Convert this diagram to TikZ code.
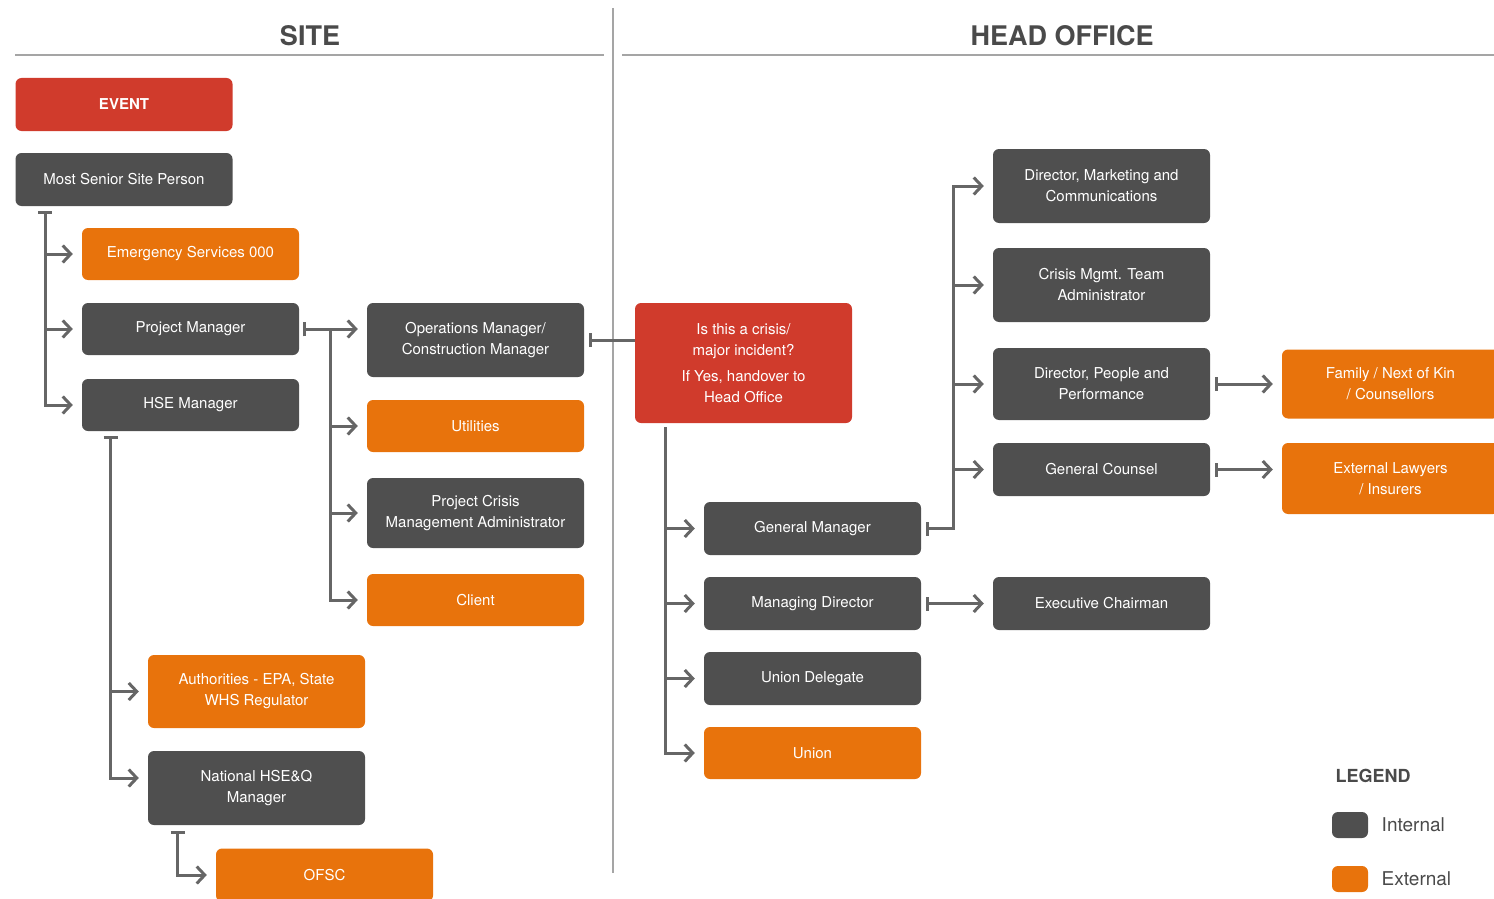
\documentclass[tikz,border=0pt]{standalone}
\usepackage{fontspec}
\setmainfont{TeX Gyre Heros}
\usetikzlibrary{arrows.meta}
\usetikzlibrary{positioning}
\usetikzlibrary{calc}

\definecolor{internal}{HTML}{4F4F4F}
\definecolor{external}{HTML}{E8730C}
\definecolor{alert}{HTML}{D03B2C}
\definecolor{wire}{HTML}{666666}
\definecolor{rulegray}{HTML}{A5A5A5}
\definecolor{headgray}{HTML}{4A4A4A}

\tikzset{
    box/.style={rectangle, rounded corners=6pt, minimum width=217pt, minimum height=53pt,
        inner sep=0pt, text=white, align=center, font=\fontsize{15}{21}\selectfont},
    inbox/.style={box, fill=internal},
    exbox/.style={box, fill=external},
    hotbox/.style={box, fill=alert},
    flow/.style={draw=wire, line width=3pt, {Bar[width=14pt]}-{Straight Barb[length=8pt,width=17pt]}},
    feed/.style={draw=wire, line width=3pt, -{Straight Barb[length=8pt,width=17pt]}},
    tick/.style={draw=wire, line width=3pt, {Bar[width=14pt]}-},
    heading/.style={text=headgray, font=\fontsize{27}{30}\selectfont\bfseries},
    swatch/.style={rectangle, rounded corners=6pt, minimum width=36pt, minimum height=26pt, inner sep=0pt},
    legtext/.style={text=headgray, font=\fontsize{19}{22}\selectfont}
}

\begin{document}
\begin{tikzpicture}[x=1pt, y=-1pt]
    \clip (0,0) rectangle (1494,899);

    \node[heading] (site) at (310,36) {SITE};
    \node[heading] (office) at (1062,36) {HEAD OFFICE};
    \draw[rulegray, line width=1.5pt] (15,55) -- (604,55);
    \draw[rulegray, line width=1.5pt] (622,55) -- (1494,55);
    \draw[rulegray, line width=1.5pt] (613,8) -- (613,873);

    \draw (124,104.5) node[hotbox, font=\fontsize{15}{21}\selectfont\bfseries] (event) {EVENT};
    \draw (124,179.5) node[inbox] (senior) {Most Senior Site Person};
    \draw (190.5,254) node[exbox, minimum height=52pt] (emergency) {Emergency Services 000};
    \draw (190.5,329) node[inbox, minimum height=52pt] (pm) {Project Manager};
    \draw (190.5,405) node[inbox, minimum height=52pt] (hse) {HSE Manager};
    \draw (475.5,340) node[inbox, minimum height=74pt] (ops) {Operations Manager/\\Construction Manager};
    \draw (475.5,426) node[exbox, minimum height=52pt] (utilities) {Utilities};
    \draw (475.5,513) node[inbox, minimum height=70pt] (pcma) {Project Crisis\\Management Administrator};
    \draw (475.5,600) node[exbox, minimum height=52pt] (client) {Client};
    \draw (256.5,691.5) node[exbox, minimum height=73pt] (authorities) {Authorities - EPA, State\\WHS Regulator};
    \draw (256.5,788) node[inbox, minimum height=74pt] (nhseq) {National HSE\&Q\\Manager};
    \draw (324.5,875) node[exbox] (ofsc) {OFSC};

    \draw (743.5,363) node[hotbox, minimum height=120pt] (crisis) {Is this a crisis/\\major incident?\\[5pt]If Yes, handover to\\Head Office};
    \draw (812.5,528.5) node[inbox] (gm) {General Manager};
    \draw (812.5,603.5) node[inbox] (md) {Managing Director};
    \draw (812.5,678.5) node[inbox] (delegate) {Union Delegate};
    \draw (812.5,753) node[exbox, minimum height=52pt] (union) {Union};
    \draw (1101.5,186) node[inbox, minimum height=74pt] (dmc) {Director, Marketing and\\Communications};
    \draw (1101.5,285) node[inbox, minimum height=74pt] (cmta) {Crisis Mgmt. Team\\Administrator};
    \draw (1101.5,384) node[inbox, minimum height=72pt] (dpp) {Director, People and\\Performance};
    \draw (1101.5,469.5) node[inbox] (counsel) {General Counsel};
    \draw (1101.5,603.5) node[inbox] (chairman) {Executive Chairman};
    \draw (1390.5,384) node[exbox, minimum height=69pt] (family) {Family / Next of Kin\\/ Counsellors};
    \draw (1390.5,478.5) node[exbox, minimum height=71pt] (lawyers) {External Lawyers\\/ Insurers};

    \coordinate (s0) at ([xshift=30pt,yshift=-5pt]senior.south west);
    \coordinate (p0) at ([xshift=4pt]pm.east);
    \coordinate (p1) at ([xshift=31pt]pm.east);
    \coordinate (h0) at ([xshift=29pt,yshift=-5pt]hse.south west);
    \coordinate (n0) at ([xshift=30pt,yshift=-6pt]nhseq.south west);
    \coordinate (c0) at ([xshift=31pt,yshift=-4pt]crisis.south west);
    \coordinate (g0) at ([xshift=5pt]gm.east);
    \coordinate (g1) at ([xshift=32pt]gm.east);

    \foreach \child in {emergency,pm,hse}{
        \draw[flow] (s0) |- ([xshift=-9pt]\child.west);
    }
    \draw[flow] (p0) -- ([xshift=-9pt,yshift=11pt]ops.west);
    \foreach \child in {utilities,pcma,client}{
        \draw[flow] (p0) -- (p1) |- ([xshift=-9pt]\child.west);
    }
    \draw[flow] (h0) |- ([xshift=-9pt]authorities.west);
    \draw[flow] (h0) |- ([xshift=-9pt,yshift=10pt]nhseq.west);
    \draw[flow] (n0) |- ([xshift=-9pt]ofsc.west);
    \draw[tick] ([xshift=5pt]ops.east) -- (ops.east -| crisis.west);

    \foreach \child in {gm,md,delegate,union}{
        \draw[feed] (c0) |- ([xshift=-9pt]\child.west);
    }
    \foreach \child in {dmc,cmta,dpp,counsel}{
        \draw[flow] (g0) -- (g1) |- ([xshift=-9pt]\child.west);
    }
    \draw[flow] ([xshift=5pt]md.east) -- ([xshift=-9pt]chairman.west);
    \draw[flow] ([xshift=5pt]dpp.east) -- ([xshift=-9pt]family.west);
    \draw[flow] ([xshift=5pt]counsel.east) -- ($(counsel.east -| lawyers.west)+(-9,0)$);

    \node[text=headgray, font=\fontsize{18}{20}\selectfont\bfseries] (legend) at (1373,776) {LEGEND};
    \node[swatch, fill=internal] (legint) at (1350,825) {};
    \node[swatch, fill=external] (legext) at (1350,879) {};
    \node[legtext, right=10pt of legint] (intlabel) {Internal};
    \node[legtext, right=10pt of legext] (extlabel) {External};
\end{tikzpicture}
\end{document}
